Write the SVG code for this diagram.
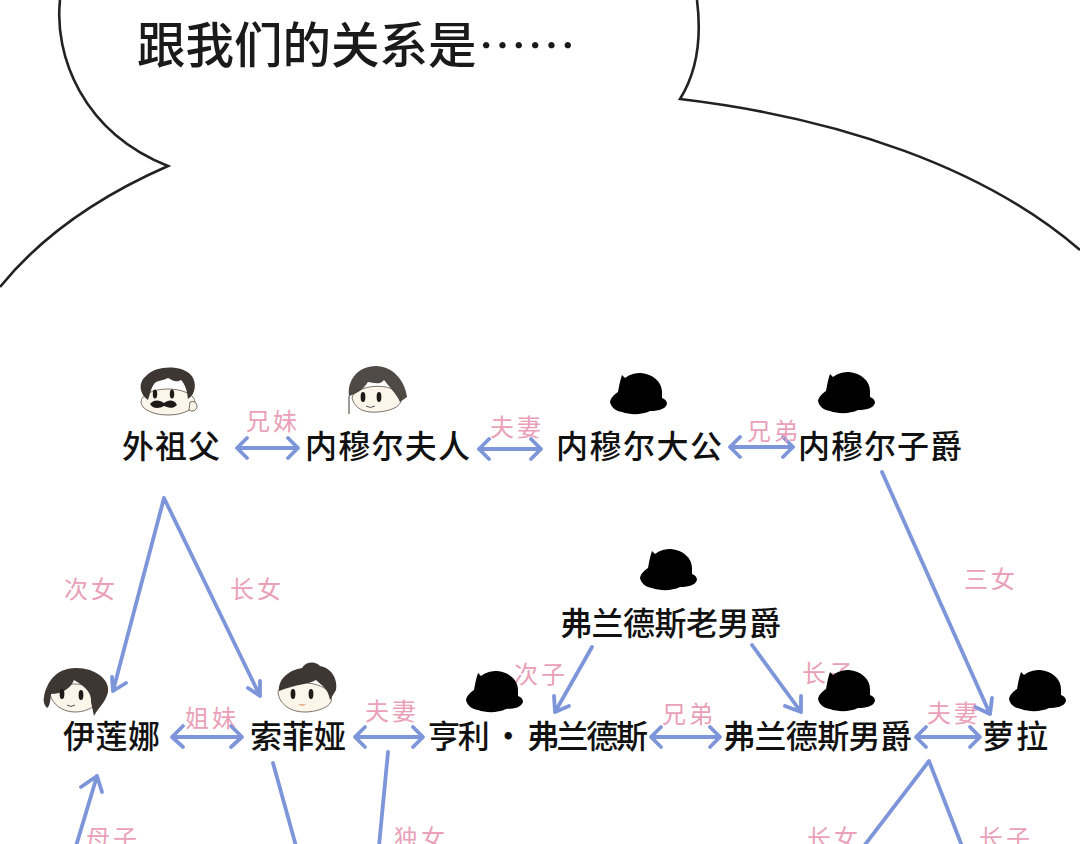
<svg xmlns="http://www.w3.org/2000/svg" width="1080" height="844" viewBox="0 0 1080 844">
<style>
text{font-family:"Noto Sans CJK SC","Noto Sans",sans-serif}
.name{font-size:32px;fill:#111;font-weight:500}
.rel{font-size:24px;fill:#eaa0b8;font-weight:400;letter-spacing:3px}
.link{fill:none;stroke:#7d95d9;stroke-width:3.8;stroke-linecap:round;stroke-linejoin:round}
.hair{fill:#3d3632}
.skin{fill:#fbf5ea;stroke:#5a5048;stroke-width:.8}
.ink{fill:#1d1a18}
</style>
<defs>
<path id="hat" d="M0 29C1 24 5 21 8 19C9 13 10 8 12 2L15 5C20 1 26 0 31 0C43 1 52 9 52 19L52 25C55 26 57 28 57 31C55 37 47 38 40 38C32 42 20 42 12 39C5 38 1 34 0 29Z"/>
</defs>
<rect width="1080" height="844" fill="#fff"/>
<g id="speech-bubble">
<path d="M60 0C54 55 82 132 168 166C95 198 38 240 0 287M697 0C702 40 697 72 680 99C840 118 985 168 1080 250" fill="none" stroke="#222" stroke-width="2.6"/>
<text x="137" y="63" font-size="48.5" font-weight="500" fill="#1a1a1a">跟我们的关系是</text>
<text x="478" y="63" font-size="48" fill="#1a1a1a" style="font-family:'Noto Sans CJK JP',sans-serif" textLength="98" lengthAdjust="spacingAndGlyphs">……</text>
</g>
<g id="connectors">
<path class="link" d="M237 448H298M247 438L237 448L247 458M288 438L298 448L288 458"/>
<path class="link" d="M479 449H541M489 439L479 449L489 459M531 439L541 449L531 459"/>
<path class="link" d="M730 447H793M740 437L730 447L740 457M783 437L793 447L783 457"/>
<path class="link" d="M172 737H242M183 726L172 737L183 747M231 726L242 737L231 747"/>
<path class="link" d="M355 737H423M365 727L355 737L365 747M413 727L423 737L413 747"/>
<path class="link" d="M651 737H720M661 727L651 737L661 747M710 727L720 737L710 747"/>
<path class="link" d="M916 737H980M926 727L916 737L926 747M970 727L980 737L970 747"/>
<path class="link" d="M113 691L164 498L260 696M112 677L113 691L126 683M248 688L260 696L260 681"/>
<path class="link" d="M882 472L990 714M975 707L990 714L992 698"/>
<path class="link" d="M592 647L555 712M554 696L555 712L569 706"/>
<path class="link" d="M752 645L801 712M785 706L801 712L801 696"/>
<path class="link" d="M273 763L296 846"/>
<path class="link" d="M388 752L379 846"/>
<path class="link" d="M76 846L97 776M81 787L97 776L102 792"/>
<path class="link" d="M864 846L929 761L962 846"/>
</g>
<g id="relation-labels">
<text class="rel" x="246" y="430">兄妹</text>
<text class="rel" x="490" y="436">夫妻</text>
<text class="rel" x="747" y="440">兄弟</text>
<text class="rel" x="64" y="598">次女</text>
<text class="rel" x="230" y="598">长女</text>
<text class="rel" x="964" y="588">三女</text>
<text class="rel" x="514" y="683">次子</text>
<text class="rel" x="802" y="682">长子</text>
<text class="rel" x="185" y="727">姐妹</text>
<text class="rel" x="365" y="720">夫妻</text>
<text class="rel" x="662" y="723">兄弟</text>
<text class="rel" x="927" y="722">夫妻</text>
<text class="rel" x="86" y="847">母子</text>
<text class="rel" x="394" y="847">独女</text>
<text class="rel" x="807" y="847">长女</text>
<text class="rel" x="979" y="847">长子</text>
</g>
<g id="grandfather">
<ellipse class="skin" cx="168" cy="402" rx="27" ry="13"/>
<path class="skin" d="M190 402a5 5 0 0 1 7 3a5 5 0 0 1-8 5z"/>
<path class="hair" d="M148 400C139 394 138 382 146 376C156 365 182 365 191 375C197 382 196 394 188 399C187 390 185 384 181 380C176 383 172 380 168 378C162 381 157 380 154 384C151 388 150 394 148 400Z"/>
<ellipse class="ink" cx="155" cy="394" rx="2.2" ry="4.5"/><ellipse class="ink" cx="172" cy="394" rx="2.2" ry="4.5"/>
<path class="ink" d="M150 404C154 399 160 400 164 403C168 400 174 399 177 405C172 410 167 407 164 406C160 408 154 410 150 404Z"/>
<text class="name" x="122" y="458" textLength="98">外祖父</text>
</g>
<g id="madame-neimuer">
<path class="skin" d="M352 398C354 385 395 380 401 398C403 408 385 413 370 412C360 411 354 406 352 398Z"/>
<path class="hair" d="M349 396C347 380 358 366 376 366C392 366 405 380 407 397L400 402C396 393 390 388 384 380C380 386 372 382 368 382C363 390 356 394 349 396Z" fill-opacity=".9"/>
<path d="M349 396L349 414" stroke="#3d3632" fill="none"/>
<ellipse class="ink" cx="363" cy="397" rx="2.4" ry="5"/><ellipse class="ink" cx="379" cy="397" rx="2.4" ry="5"/>
<path d="M366 406Q370 409 375 406" stroke="#555" fill="none"/>
<text class="name" x="305" y="458" textLength="165">内穆尔夫人</text>
</g>
<g id="grand-duke">
<use href="#hat" x="610" y="373"/>
<text class="name" x="556" y="458" textLength="166">内穆尔大公</text>
</g>
<g id="viscount-neimuer">
<use href="#hat" x="818" y="372"/>
<text class="name" x="798" y="458" textLength="164">内穆尔子爵</text>
</g>
<g id="old-baron-flanders">
<use href="#hat" x="640" y="549"/>
<text class="name" x="560" y="635" textLength="221">弗兰德斯老男爵</text>
</g>
<g id="elena">
<path class="skin" d="M50 694C52 682 88 680 98 692C104 702 90 712 75 712C62 712 52 704 50 694Z"/>
<path class="hair" d="M44 697C46 685 54 668 76 668C96 668 110 680 108 692C106 702 98 708 94 716L91 702C92 692 84 686 74 680C70 690 60 694 51 694C50 702 50 706 47 708C44 705 43 701 44 697Z"/>
<ellipse class="ink" cx="62" cy="694" rx="2.4" ry="5"/><ellipse class="ink" cx="81" cy="695" rx="2.4" ry="5"/>
<path d="M67 705Q71 708 75 705" stroke="#555" fill="none"/>
<text class="name" x="63" y="748" textLength="97">伊莲娜</text>
</g>
<g id="sofia">
<path class="skin" d="M278 692C280 680 325 678 331 696C335 706 318 712 305 712C290 712 279 704 278 692Z"/>
<path class="hair" d="M279 691C278 678 290 670 302 668C306 661 316 661 320 666C332 668 338 680 336 690L330 700C328 688 322 686 316 680C310 684 296 684 279 691Z"/>
<ellipse class="ink" cx="293" cy="694" rx="2.4" ry="5"/><ellipse class="ink" cx="311" cy="694" rx="2.4" ry="5"/>
<path d="M298 704Q302 708 306 704Z" fill="#e9b08f"/>
<text class="name" x="250" y="748" textLength="96">索菲娅</text>
</g>
<g id="henry-flanders">
<use href="#hat" x="466" y="671"/>
<text class="name" x="428" y="748" textLength="220">亨利 · 弗兰德斯</text>
</g>
<g id="baron-flanders">
<use href="#hat" x="818" y="670"/>
<text class="name" x="723" y="748" textLength="189">弗兰德斯男爵</text>
</g>
<g id="laura">
<use href="#hat" x="1009" y="670"/>
<text class="name" x="982" y="748" textLength="66">萝拉</text>
</g>
</svg>
